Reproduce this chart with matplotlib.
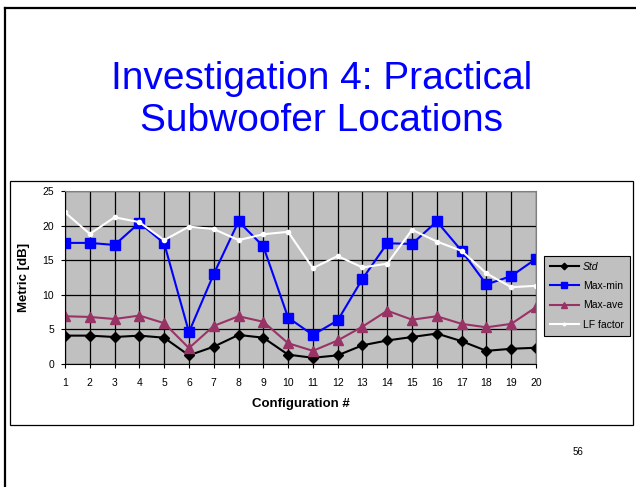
import numpy as np
import matplotlib.pyplot as plt
from matplotlib.lines import Line2D
from matplotlib.patches import Rectangle

plt.rcParams['font.family'] = ['Liberation Sans', 'DejaVu Sans']

configs = list(range(1, 21))
std = [4.1, 4.1, 3.9, 4.1, 3.8, 1.25, 2.5, 4.2, 3.8, 1.35,
       0.9, 1.25, 2.7, 3.4, 3.9, 4.4, 3.3, 1.9, 2.2, 2.35]
max_min = [17.5, 17.5, 17.2, 20.4, 17.45, 4.6, 13.0, 20.6, 17.0, 6.7,
           4.2, 6.3, 12.3, 17.45, 17.35, 20.6, 16.35, 11.5, 12.7, 15.2]
max_ave = [6.9, 6.8, 6.5, 7.0, 5.9, 2.3, 5.5, 6.9, 6.1, 3.0,
           1.9, 3.4, 5.4, 7.7, 6.4, 6.9, 5.8, 5.3, 5.8, 8.2]
lf_factor = [21.9, 18.8, 21.2, 20.5, 17.9, 19.85, 19.5, 17.9, 18.75, 19.1,
             13.85, 15.6, 13.95, 14.5, 19.4, 17.7, 16.35, 13.1, 11.1, 11.3]

W, H = 636, 487
fig = plt.figure(figsize=(W / 100, H / 100), dpi=100)

def fx(px):
    return px / W

def fy(py):
    return 1 - py / H

# slide frame (left and top edges)
fig.add_artist(Line2D([fx(4.5), fx(4.5)], [fy(8), 0], color='black', lw=1.6))
fig.add_artist(Line2D([fx(4.5), 1], [fy(8), fy(8)], color='black', lw=1.6))

# slide title, one text per line
fig.text(fx(322), fy(89), 'Investigation 4: Practical', color='#0000ff',
         fontsize=28, ha='center', va='baseline')
fig.text(fx(322), fy(131), 'Subwoofer Locations', color='#0000ff',
         fontsize=28, ha='center', va='baseline')

fig.text(fx(578), fy(452), '56', fontsize=7, ha='center', va='center')

# chart frame
fig.add_artist(Rectangle((fx(10), fy(425)), fx(633) - fx(10), fy(181) - fy(425),
                         transform=fig.transFigure, fill=False,
                         edgecolor='black', lw=0.9))

ax = fig.add_axes([fx(65), fy(364), fx(536) - fx(65), fy(191) - fy(364)])
ax.set_facecolor('#c0c0c0')

ax.plot(configs, std, color='black', marker='D', ms=5.5, lw=1.5, label='Std')
ax.plot(configs, max_min, color='#0000ff', marker='s', ms=7.5, lw=1.5, label='Max-min')
ax.plot(configs, max_ave, color='#993366', marker='^', ms=7.5, lw=1.5, label='Max-ave')
ax.plot(configs, lf_factor, color='white', marker='o', ms=3, lw=1.5, label='LF factor')

ax.set_xlim(1, 20)
ax.set_ylim(0, 25)
ax.set_xticks(configs)
ax.set_yticks([0, 5, 10, 15, 20, 25])
ax.grid(True, color='black', lw=0.9)
ax.set_axisbelow(True)
ax.tick_params(labelsize=7.5, length=3, width=0.8, direction='out')
ax.tick_params(axis='x', pad=7)
ax.tick_params(axis='y', pad=5)
for s in ['top', 'right']:
    ax.spines[s].set_color('#808080')
for s in ['left', 'bottom']:
    ax.spines[s].set_color('black')
ax.set_xlabel('Configuration #', fontsize=9.5, fontweight='bold', labelpad=7)
ax.set_ylabel('Metric [dB]', fontsize=9.5, fontweight='bold', labelpad=9)

leg = fig.legend(loc='upper left', bbox_to_anchor=(fx(544), fy(256)),
                 bbox_transform=fig.transFigure, fontsize=7.5,
                 frameon=True, fancybox=False, borderaxespad=0,
                 handlelength=2.8, borderpad=0.55, labelspacing=0.9,
                 handletextpad=0.4, markerscale=0.6)
leg.get_frame().set_facecolor('#c0c0c0')
leg.get_frame().set_edgecolor('black')
leg.get_frame().set_linewidth(0.8)
leg.get_frame().set_alpha(1)
leg.get_texts()[0].set_fontstyle('italic')

fig.savefig('out.png', dpi=100)
